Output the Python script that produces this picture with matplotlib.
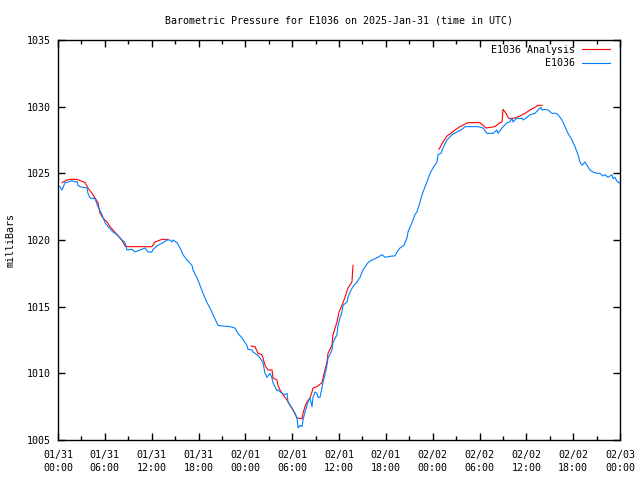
import numpy as np
import pandas as pd
import matplotlib
matplotlib.use("Agg")
import matplotlib.pyplot as plt
import matplotlib.dates as mdates

# hours since 2025-01-31 00:00 UTC and pressure (mb)
obs_hours = [0.13, 0.26, 0.51, 0.9, 1.28, 1.79, 2.18, 2.43, 2.56, 2.82, 3.72, 3.84, 4.1, 4.74,
             5.12, 5.64, 6.02, 6.41, 7.05, 7.56, 8.2, 8.58, 8.84, 9.48, 9.86, 10.5, 11.15, 11.53,
             12.04, 12.17, 12.81, 13.45, 13.96, 14.35, 14.6, 14.73, 15.24, 15.63, 16.01, 16.53,
             17.17, 17.29, 17.81, 18.19, 18.58, 19.09, 19.47, 19.86, 20.5, 21.01, 22.03, 22.67,
             23.06, 23.57, 24.21, 24.34, 24.85, 24.98, 25.49, 25.88, 26.26, 26.52, 26.77, 27.16,
             27.42, 27.54, 27.8, 28.06, 28.18, 28.7, 29.08, 29.34, 29.47, 29.98, 30.36, 30.62,
             30.75, 31.0, 31.26, 31.39, 31.64, 31.9, 32.03, 32.28, 32.54, 32.67, 32.92, 33.18,
             33.31, 33.56, 33.82, 33.95, 34.2, 34.46, 34.59, 34.84, 35.1, 35.23, 35.74, 35.87,
             36.13, 36.38, 36.51, 37.02, 37.15, 37.41, 37.79, 38.3, 38.69, 39.07, 39.71, 40.22,
             40.99, 41.51, 41.89, 42.79, 43.17, 43.43, 43.81, 44.32, 44.71, 44.84, 45.35, 45.73,
             45.99, 46.37, 46.76, 47.27, 47.66, 48.04, 48.55, 48.68, 49.07, 49.32, 49.83, 50.47,
             51.11, 51.76, 52.14, 53.04, 53.81, 54.45, 54.96, 55.73, 56.24, 56.37, 56.88, 57.52,
             57.9, 58.16, 58.29, 58.8, 59.18, 59.44, 59.57, 60.08, 60.47, 61.11, 61.49, 61.88,
             62.01, 62.39, 62.77, 63.29, 63.8, 64.06, 64.57, 64.95, 65.34, 65.85, 66.23, 66.62,
             66.87, 67.13, 67.51, 67.77, 68.15, 68.54, 69.05, 69.43, 69.82, 70.07, 70.46, 70.97,
             71.1, 71.36, 71.61, 72.0]
obs_mb = [1024.0, 1024.0, 1023.75, 1024.3, 1024.35, 1024.45, 1024.35, 1024.4, 1024.1, 1024.0,
          1023.9, 1023.5, 1023.15, 1023.1, 1022.5, 1021.9, 1021.3, 1021.0, 1020.6, 1020.4,
          1020.0, 1019.8, 1019.25, 1019.3, 1019.1, 1019.25, 1019.4, 1019.1, 1019.1, 1019.3,
          1019.6, 1019.8, 1020.0, 1020.0, 1019.85, 1020.0, 1019.8, 1019.4, 1018.9, 1018.5,
          1018.1, 1017.75, 1017.15, 1016.6, 1016.0, 1015.3, 1014.9, 1014.4, 1013.6, 1013.55,
          1013.5, 1013.4, 1013.0, 1012.65, 1012.1, 1011.8, 1011.75, 1011.6, 1011.4, 1011.15,
          1010.8, 1010.0, 1009.7, 1010.0, 1009.65, 1009.3, 1009.0, 1008.7, 1008.75, 1008.5,
          1008.4, 1008.5, 1007.85, 1007.4, 1007.0, 1006.65, 1005.9, 1006.1, 1006.0, 1006.5,
          1007.1, 1007.6, 1007.85, 1008.15, 1007.5, 1008.2, 1008.6, 1008.5, 1008.2, 1008.2,
          1008.9, 1009.35, 1009.9, 1010.6, 1011.15, 1011.4, 1011.75, 1012.3, 1012.9, 1013.6,
          1014.15, 1014.6, 1015.1, 1015.35, 1015.7, 1016.1, 1016.5, 1016.85, 1017.2, 1017.75,
          1018.3, 1018.5, 1018.7, 1018.9, 1018.7, 1018.8, 1018.8, 1019.1, 1019.4, 1019.6,
          1020.15, 1020.6, 1021.3, 1021.9, 1022.1, 1022.85, 1023.6, 1024.35, 1025.0, 1025.4,
          1025.85, 1026.4, 1026.5, 1026.9, 1027.5, 1027.9, 1028.1, 1028.3, 1028.5, 1028.5,
          1028.5, 1028.4, 1028.0, 1028.0, 1028.25, 1028.0, 1028.4, 1028.8, 1028.85, 1029.15,
          1028.85, 1029.15, 1029.1, 1029.15, 1029.0, 1029.2, 1029.4, 1029.5, 1029.75, 1029.95,
          1029.75, 1029.8, 1029.75, 1029.5, 1029.5, 1029.4, 1029.0, 1028.5, 1028.0, 1027.5,
          1027.0, 1026.4, 1025.85, 1025.6, 1025.85, 1025.6, 1025.25, 1025.1, 1025.0, 1025.0,
          1024.8, 1024.9, 1024.7, 1024.9, 1024.6, 1024.7, 1024.4, 1024.25]

# analysis series, NaN marks a gap in the data
ana_hours = [0.51, 1.15, 1.54, 2.43, 3.07, 3.46, 3.84, 4.36, 4.74, 5.12, 5.38, 5.76, 6.28, 6.66,
             7.05, 7.56, 7.94, 8.33, 8.58, 8.97, 10.5, 12.04, 12.43, 13.32, 14.09, 19.0,
             24.72, 25.24, 25.62, 26.13, 26.26, 26.52, 26.9, 27.42, 27.54, 28.06, 28.18, 28.44,
             28.82, 29.34, 29.72, 30.11, 30.62, 31.26, 31.39, 31.64, 31.9, 32.28, 32.54, 32.67,
             33.18, 33.82, 33.95, 34.2, 34.46, 34.59, 35.1, 35.23, 35.74, 36.0, 36.38, 36.77,
             37.15, 37.66, 37.79, 43.0,
             48.81, 49.32, 49.83, 50.22, 50.86, 51.5, 52.52, 54.06, 54.83, 55.98, 56.62, 56.88,
             57.01, 57.39, 57.65, 57.9, 58.55, 59.18, 59.83, 60.47, 61.11, 61.49, 62.01]
ana_mb = [1024.3, 1024.5, 1024.55, 1024.55, 1024.4, 1024.3, 1023.9, 1023.5, 1023.15, 1022.8,
          1022.0, 1021.65, 1021.35, 1021.0, 1020.75, 1020.4, 1020.15, 1019.85, 1019.55, 1019.5,
          1019.5, 1019.5, 1019.85, 1020.05, 1020.05, np.nan,
          1012.05, 1012.0, 1011.5, 1011.4, 1011.15, 1010.6, 1010.25, 1010.25, 1009.65, 1009.5,
          1009.1, 1008.75, 1008.4, 1008.0, 1007.6, 1007.25, 1006.65, 1006.6, 1007.0, 1007.5,
          1007.85, 1008.15, 1008.6, 1008.9, 1009.0, 1009.3, 1009.65, 1010.25, 1010.85, 1011.5,
          1012.1, 1012.9, 1013.85, 1014.6, 1015.1, 1015.7, 1016.4, 1016.85, 1018.1, np.nan,
          1026.8, 1027.35, 1027.8, 1027.95, 1028.25, 1028.5, 1028.8, 1028.8, 1028.4, 1028.5,
          1028.8, 1028.85, 1029.8, 1029.5, 1029.2, 1029.1, 1029.15, 1029.3, 1029.5, 1029.75,
          1029.95, 1030.1, 1030.1]

start = pd.Timestamp("2025-01-31 00:00")
obs_t = start + pd.to_timedelta(obs_hours, unit="h")
ana_t = start + pd.to_timedelta(ana_hours, unit="h")

plt.rcParams["font.family"] = "DejaVu Sans Mono"
plt.rcParams["font.size"] = 7.2

fig = plt.figure(figsize=(6.4, 4.8), dpi=100)
ax = fig.add_axes([58 / 640, 40 / 480, 562 / 640, 400 / 480])

ax.plot(ana_t, ana_mb, color="#ff0000", lw=0.8, label="E1036 Analysis")
ax.plot(obs_t, obs_mb, color="#0080ff", lw=0.8, label="E1036")

ax.set_xlim(start, start + pd.Timedelta(hours=72))
ax.set_ylim(1005, 1035)
ax.set_yticks(np.arange(1005, 1036, 5))
ax.xaxis.set_major_locator(mdates.HourLocator(byhour=[0, 6, 12, 18]))
ax.xaxis.set_minor_locator(mdates.HourLocator(byhour=[3, 9, 15, 21]))
ax.xaxis.set_major_formatter(mdates.DateFormatter("%m/%d\n%H:%M"))
ax.tick_params(which="both", direction="in", top=True, right=True, width=1)
ax.tick_params(which="major", length=5, pad=5)
ax.tick_params(axis="x", which="major", pad=7)
ax.tick_params(which="minor", length=3)
for lbl in ax.get_xticklabels():
    lbl.set_linespacing(1.45)
for s in ax.spines.values():
    s.set_linewidth(1)

ax.set_title("Barometric Pressure for E1036 on 2025-Jan-31 (time in UTC)", fontsize=7.2, pad=12)
ax.set_ylabel("milliBars", labelpad=8)

ax.legend(loc="upper right", bbox_to_anchor=(0.991, 1.0), frameon=False, markerfirst=False,
          handlelength=2.8, handletextpad=0.7, labelspacing=0.35, borderaxespad=0.1)

fig.savefig("out.png", dpi=100)
